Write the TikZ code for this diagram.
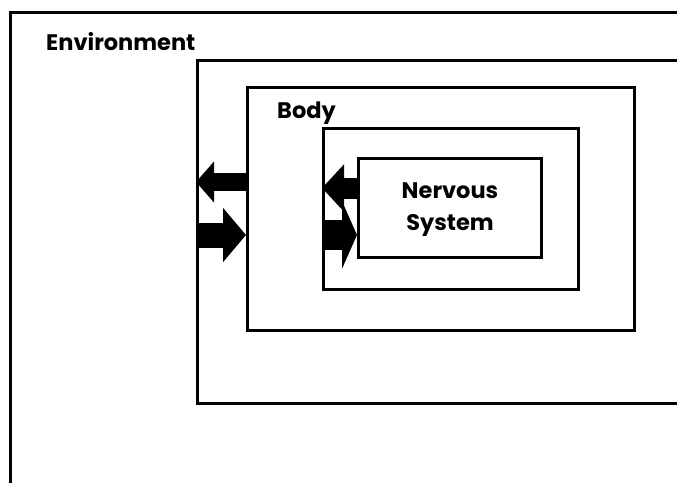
\documentclass[tikz,border=0pt]{standalone}
\usepackage{fontspec}
\setmainfont{Poppins}
\usetikzlibrary{arrows.meta}
\tikzset{
  frame/.style = {draw, line width=3pt, inner sep=0pt, anchor=north west},
  lbl/.style = {font=\fontsize{22.5}{32}\selectfont\bfseries, inner sep=0pt},
  bigarrow/.style = {line width=#1, line cap=butt}
}
\begin{document}
\begin{tikzpicture}[x=1pt, y=-1pt]
  \useasboundingbox (0,0) rectangle (677,482);
  \clip (0,0) rectangle (677,482);
  % nested boxes
  \node[frame, minimum width=700pt, minimum height=500pt] (env) at (9,11) {};
  \node[frame, minimum width=500pt, minimum height=343pt] (world) at (196,59) {};
  \node[frame, minimum width=387pt, minimum height=243pt] (body) at (246,86) {};
  \node[frame, minimum width=255pt, minimum height=161pt] (inner) at (322,127) {};
  \node[frame, minimum width=183pt, minimum height=99pt] (ns) at (357,157) {};
  % labels
  \node[lbl, anchor=base west] (envlbl) at (46,50) {Environment};
  \node[lbl, anchor=base west] (bodylbl) at (277,118) {Body};
  \node[lbl, align=center, anchor=base] (nslbl) at (ns.center |- 0,230) {Nervous\\System};
  % arrows between the layers
  \draw[bigarrow=18pt, -{Triangle[length=18pt, width=40pt]}]
    (body.west |- 0,182) -- (world.west |- 0,182);
  \draw[bigarrow=25pt, -{Triangle[length=23pt, width=53pt]}]
    (world.west |- 0,235) -- (body.west |- 0,235);
  \draw[bigarrow=21pt, -{Triangle[length=22pt, width=46pt]}]
    (ns.west |- 0,188) -- (inner.west |- 0,188);
  \draw[bigarrow=30pt, -{Triangle[length=15pt, width=67pt]}]
    (inner.west |- 0,235) -- (ns.west |- 0,235);
\end{tikzpicture}
\end{document}
